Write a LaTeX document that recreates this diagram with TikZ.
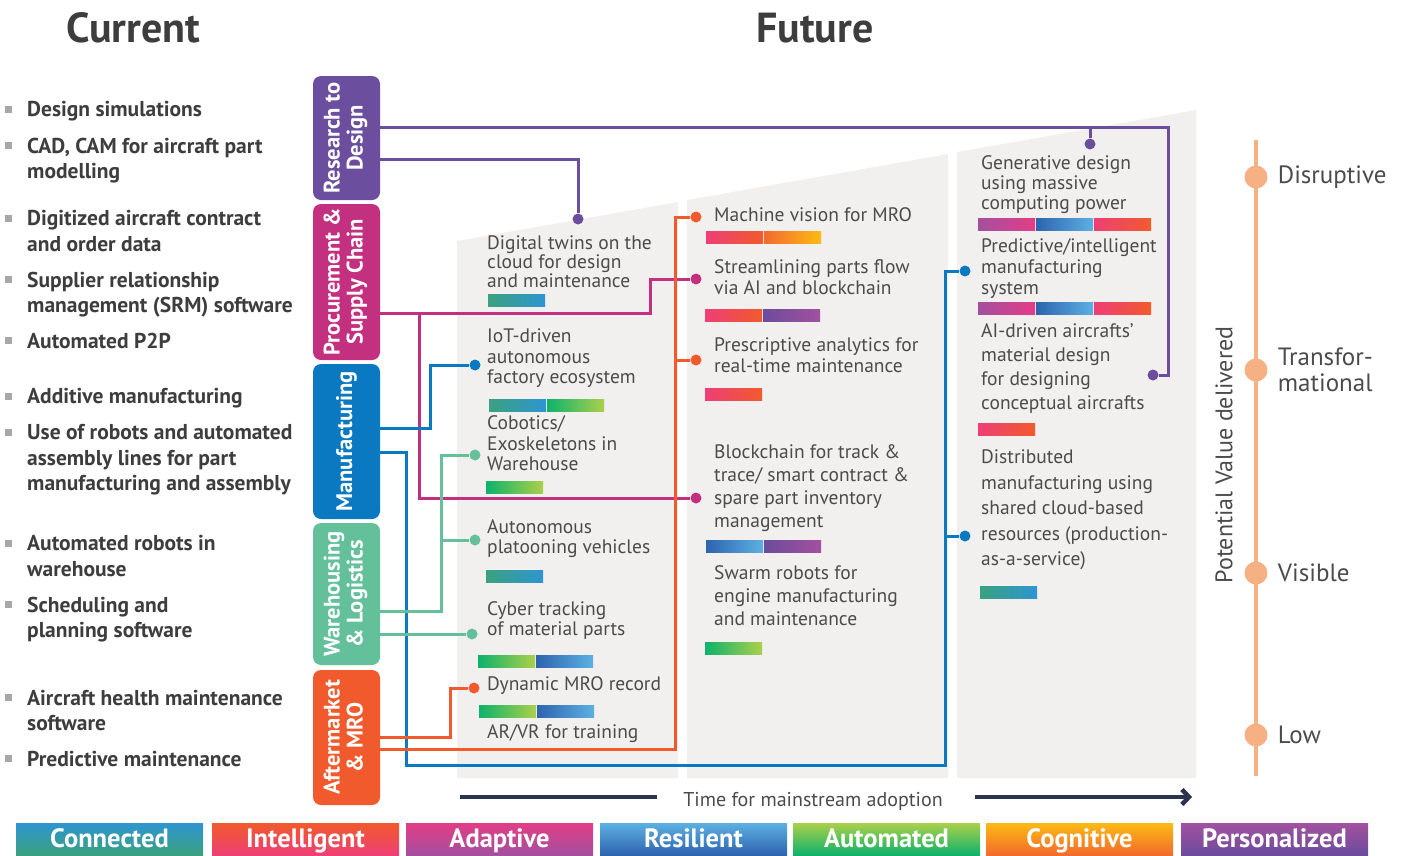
\documentclass[tikz,border=0pt]{standalone}
\usepackage{fontspec}
\usepackage{graphicx}
\setmainfont{PT Sans}
\usetikzlibrary{positioning, arrows.meta}

\definecolor{rdpurple}{HTML}{6B4E9E}
\definecolor{pcmagenta}{HTML}{C2307F}
\definecolor{mfblue}{HTML}{0B79C1}
\definecolor{wlgreen}{HTML}{63C09B}
\definecolor{amorange}{HTML}{F05A2C}
\definecolor{panelgray}{HTML}{F2F0EF}
\definecolor{textgray}{HTML}{4B4B4B}
\definecolor{headgray}{HTML}{3D3D3D}
\definecolor{bulletgray}{HTML}{A7A7A9}
\definecolor{axispeach}{HTML}{F5B184}
\definecolor{navy}{HTML}{2C3350}
% gradient ends of the seven tags
\definecolor{conA}{HTML}{3AA17F}\definecolor{conB}{HTML}{2E95D1}
\definecolor{intA}{HTML}{EE3F76}\definecolor{intB}{HTML}{F15A2C}
\definecolor{adaA}{HTML}{A2509F}\definecolor{adaB}{HTML}{E43D86}
\definecolor{resA}{HTML}{2D64AF}\definecolor{resB}{HTML}{5CB0E2}
\definecolor{autA}{HTML}{0DB26B}\definecolor{autB}{HTML}{ABD04A}
\definecolor{cogA}{HTML}{F26A2E}\definecolor{cogB}{HTML}{FDBA14}
\definecolor{perA}{HTML}{6C4C9C}\definecolor{perB}{HTML}{A2519F}

\newcommand\itemfont{\fontsize{19.5}{20}\selectfont}
\newcommand\catfont{\bfseries\fontsize{22.5}{23}\selectfont}

\tikzset{
  connected/.style={left color=conA, right color=conB},
  intelligent/.style={left color=intA, right color=intB},
  adaptive/.style={left color=adaA, right color=adaB},
  resilient/.style={left color=resA, right color=resB},
  automated/.style={left color=autA, right color=autB},
  cognitive/.style={left color=cogA, right color=cogB},
  personalized/.style={left color=perA, right color=perB},
  catbox/.style={rounded corners=8pt, minimum width=67pt, text=white, font=\catfont, inner sep=0pt},
  conn/.style={line width=3pt},
  hub/.style={circle, inner sep=0pt, minimum size=11pt},
  item/.style={anchor=north west, align=left, inner sep=0pt, text=textgray, font=\itemfont},
  curitem/.style={anchor=north west, align=left, inner sep=0pt, text=headgray, font=\bfseries\fontsize{21.5}{25.5}\selectfont},
  sqbullet/.style={fill=bulletgray, inner sep=0pt, minimum size=7pt},
  panel/.style={fill=panelgray},
  vdot/.style={circle, fill=axispeach, inner sep=0pt, minimum size=23pt},
  vlabel/.style={align=left, inner sep=0pt, text=textgray, font=\fontsize{25}{26}\selectfont},
  legbox/.style={minimum width=187pt, minimum height=32pt, inner sep=0pt, text height=22pt, text depth=6pt,
    text=white, font=\bfseries\fontsize{26.5}{28}\selectfont},
  timebar/.style={line width=4.5pt, navy}
}

% one bar of tag colours under an item
\newcommand\techbar[2]{%
  \foreach \g [count=\i from 0] in {#2}
    \shade[\g, shift={(\i*58,0)}] (#1) rectangle ++(57,12);}

\begin{document}
\begin{tikzpicture}[x=1pt, y=-1pt]
\useasboundingbox (0,0) rectangle (1402,855);

% headings
\node[text=headgray, font=\bfseries\fontsize{42}{46}\selectfont] (current) at (133,28) {Current};
\node[text=headgray, font=\bfseries\fontsize{42}{46}\selectfont] (future) at (815,28) {Future};

% current practices
\foreach \y/\txt [count=\i] in {
  109/{Design simulations},
  145/{CAD, CAM for aircraft part\\modelling},
  218/{Digitized aircraft contract\\and order data},
  279/{Supplier relationship\\management (SRM) software},
  340/{Automated P2P},
  396/{Additive manufacturing},
  432/{Use of robots and automated\\assembly lines for part\\manufacturing and assembly},
  543/{Automated robots in\\warehouse},
  604/{Scheduling and\\planning software},
  697/{Aircraft health maintenance\\software},
  758/{Predictive maintenance}}{
  \node[sqbullet] (bul\i) at (8.5,\y) {};
  \node[curitem] (cur\i) at (27,\y-7.5) {\txt};
}

% value chain areas
\node[catbox, fill=rdpurple, minimum height=124pt] (rd) at (346.5,138)
  {\rotatebox{90}{\begin{tabular}{@{}c@{}}Research to\\Design\end{tabular}}};
\node[catbox, fill=pcmagenta, minimum height=156pt] (pc) at (346.5,282)
  {\rotatebox{90}{\begin{tabular}{@{}c@{}}Procurement \&\\Supply Chain\end{tabular}}};
\node[catbox, fill=mfblue, minimum height=155pt] (mf) at (346.5,441.5)
  {\rotatebox{90}{Manufacturing}};
\node[catbox, fill=wlgreen, minimum height=142pt] (wl) at (346.5,594)
  {\rotatebox{90}{\begin{tabular}{@{}c@{}}Warehousing\\\& Logistics\end{tabular}}};
\node[catbox, fill=amorange, minimum height=135pt] (am) at (346.5,737.5)
  {\rotatebox{90}{\begin{tabular}{@{}c@{}}Aftermarket\\\& MRO\end{tabular}}};

% three time horizons
\fill[panel] (457,241) -- (678,202) -- (678,778) -- (457,778) -- cycle;
\fill[panel] (687,200) -- (948,154) -- (948,778) -- (687,778) -- cycle;
\fill[panel] (957,152) -- (1196,110) -- (1196,778) -- (957,778) -- cycle;

% hubs
\node[hub, fill=rdpurple] (dtwin) at (578,219) {};
\node[hub, fill=rdpurple] (dgen) at (1090,144) {};
\node[hub, fill=rdpurple] (dai) at (1153,375) {};
\node[hub, fill=pcmagenta] (dstream) at (696,279) {};
\node[hub, fill=pcmagenta] (dblock) at (696,498) {};
\node[hub, fill=mfblue] (diot) at (475,365) {};
\node[hub, fill=mfblue] (dpred) at (965,271) {};
\node[hub, fill=mfblue] (ddist) at (965,536) {};
\node[hub, fill=wlgreen] (dcobot) at (475,455) {};
\node[hub, fill=wlgreen] (dplat) at (475,540) {};
\node[hub, fill=wlgreen] (dcyber) at (472,634) {};
\node[hub, fill=amorange] (dmro) at (474,688) {};
\node[hub, fill=amorange] (dvision) at (696,217) {};
\node[hub, fill=amorange] (dpresc) at (696,360) {};

% links
\draw[conn, rdpurple] (rd.east |- 0,127) -| (1168,375) -- (dai);
\draw[conn, rdpurple] (dgen |- 0,127) -- (dgen);
\draw[conn, rdpurple] (rd.east |- 0,159) -| (dtwin);
\draw[conn, pcmagenta] (pc.east |- 0,313) -| (650,279) -- (dstream);
\draw[conn, pcmagenta] (419,313) |- (dblock);
\draw[conn, mfblue] (mf.east |- 0,428) -| (430,365) -- (diot);
\draw[conn, mfblue] (mf.east |- 0,452) -| (406,765) -| (945,271) -- (dpred);
\draw[conn, mfblue] (945,536) -- (ddist);
\draw[conn, wlgreen] (wl.east |- 0,611) -| (441,455) -- (dcobot);
\draw[conn, wlgreen] (441,540) -- (dplat);
\draw[conn, wlgreen] (wl.east |- 0,634) -- (dcyber);
\draw[conn, amorange] (am.east |- 0,737) -| (450,688) -- (dmro);
\draw[conn, amorange] (am.east |- 0,749) -| (675,217) -- (dvision);
\draw[conn, amorange] (675,360) -- (dpresc);

% near term
\node[item, font={\fontsize{19.5}{19}\selectfont}] (twin) at (487,235.5) {Digital twins on the\\cloud for design\\and maintenance};
\node[item, font={\fontsize{19.5}{20.5}\selectfont}] (iot) at (487,328.5) {IoT-driven\\autonomous\\factory ecosystem};
\node[item, font={\fontsize{19.5}{20.5}\selectfont}] (cobot) at (487,415.5) {Cobotics/\\Exoskeletons in\\Warehouse};
\node[item] (plat) at (487,519.5) {Autonomous\\platooning vehicles};
\node[item] (cyber) at (487,601.5) {Cyber tracking\\of material parts};
\node[item] (mro) at (487,676.5) {Dynamic MRO record};
\node[item] (arvr) at (487,724.5) {AR/VR for training};
\techbar{488,294}{connected}
\techbar{489,399}{connected,automated}
\techbar{486,481}{automated}
\techbar{486,570}{connected}
\techbar{478,655}{automated,resilient}
\techbar{479,705}{automated,resilient}

% mid term
\node[item] (vision) at (714,207.5) {Machine vision for MRO};
\node[item, font={\fontsize{19.5}{21}\selectfont}] (stream) at (714,259.5) {Streamlining parts flow\\via AI and blockchain};
\node[item, font={\fontsize{19.5}{21}\selectfont}] (presc) at (714,337.5) {Prescriptive analytics for\\real-time maintenance};
\node[item, font={\fontsize{19.5}{23}\selectfont}] (block) at (714,444.5) {Blockchain for track \&\\trace/ smart contract \&\\spare part inventory\\management};
\node[item, font={\fontsize{19.5}{23}\selectfont}] (swarm) at (714,565.5) {Swarm robots for\\engine manufacturing\\and maintenance};
\techbar{706,231}{intelligent,cognitive}
\techbar{705,309}{intelligent,personalized}
\techbar{705,388}{intelligent}
\techbar{706,540}{resilient,personalized}
\techbar{705,642}{automated}

% long term
\node[item] (gen) at (981,155.5) {Generative design\\using massive\\computing power};
\node[item, font={\fontsize{19.5}{21}\selectfont}] (pred) at (981,238.5) {Predictive/intelligent\\manufacturing\\system};
\node[item, font={\fontsize{19.5}{24}\selectfont}] (aid) at (981,323.5) {AI-driven aircrafts’\\material design\\for designing\\conceptual aircrafts};
\node[item, font={\fontsize{19.5}{25.5}\selectfont}] (dist) at (981,449.5) {Distributed\\manufacturing using\\shared cloud-based\\resources (production-\\as-a-service)};
\techbar{978,218}{adaptive,resilient,intelligent}
\techbar{978,302}{adaptive,resilient,intelligent}
\techbar{978,423}{intelligent}
\techbar{980,586}{connected}

% value scale
\draw[line width=4pt, axispeach] (1256,140) -- (1256,776);
\node[vdot] (vdis) at (1256,177) {};
\node[vdot] (vtra) at (1256,370) {};
\node[vdot] (vvis) at (1256,573) {};
\node[vdot] (vlow) at (1256,735) {};
\node[vlabel, right=10pt of vdis] {Disruptive};
\node[vlabel, right=10pt of vtra] {Transfor-\\mational};
\node[vlabel, right=10pt of vvis] {Visible};
\node[vlabel, right=10pt of vlow] {Low};
\node[rotate=90, text=textgray, font=\fontsize{24}{26}\selectfont] (pvd) at (1224,455) {Potential Value delivered};

% time axis
\node[text=textgray, font=\fontsize{20}{22}\selectfont] (tlabel) at (813,801) {Time for mainstream adoption};
\draw[timebar] (460,797) -- (657,797);
\draw[timebar, -{Straight Barb[length=7pt, width=15pt]}] (975,797) -- (1192,797);

% tags
\foreach \name/\x/\tc/\bc [count=\i] in {Connected/16/conB/conA, Intelligent/212/intB/intA,
    Adaptive/406/adaB/adaA, Resilient/600/resB/resA, Automated/793/autB/autA,
    Cognitive/986/cogB/cogA, Personalized/1181/perB/perA}
  \node[legbox, top color=\tc, bottom color=\bc] (tag\i) at (\x+93.5,839) {\name};
\end{tikzpicture}
\end{document}
